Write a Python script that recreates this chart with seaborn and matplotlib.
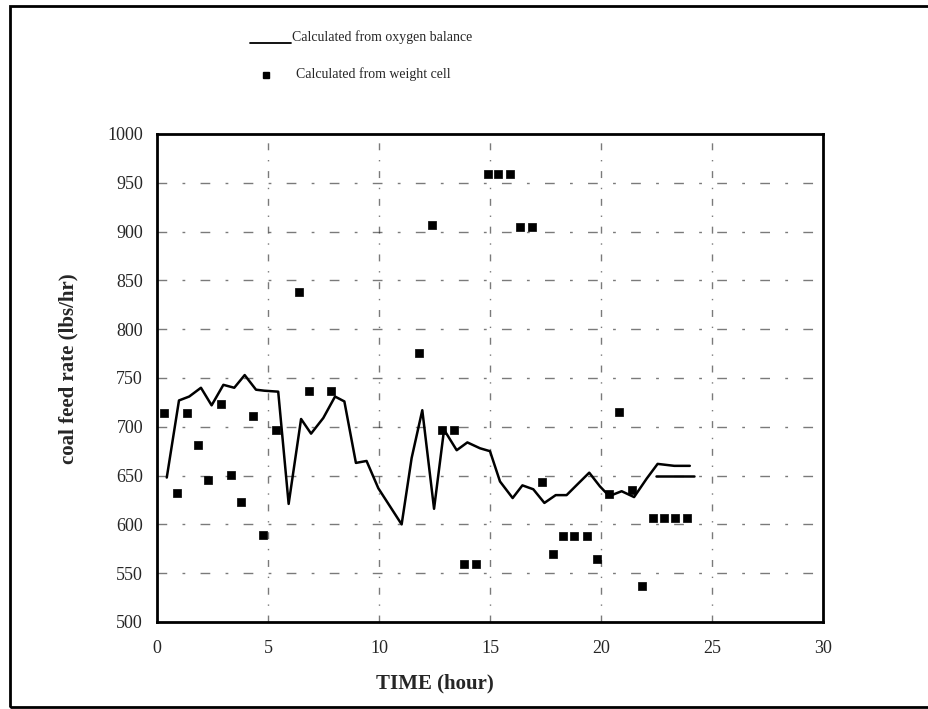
import matplotlib
matplotlib.use("Agg")
import matplotlib.pyplot as plt
import seaborn as sns
import pandas as pd
from matplotlib.patches import Rectangle

# Calculated from oxygen balance (line)
oxy_time = [0.44, 0.99, 1.45, 1.98, 2.46, 2.99, 3.48, 3.95, 4.46, 4.83, 5.46, 5.93,
            6.49, 6.94, 7.49, 8.02, 8.44, 8.96, 9.44, 9.97, 11.02, 11.47, 11.95,
            12.48, 12.93, 13.50, 13.98, 14.55, 15.00, 15.45, 16.02, 16.46, 16.95,
            17.45, 17.96, 18.45, 18.98, 19.47, 19.95, 20.37, 20.93, 21.49, 22.06,
            22.55, 23.30, 24.00]
oxy_rate = [648, 727, 731, 740, 722, 743, 740, 753, 738, 737, 736, 621,
            708, 693, 709, 731, 726, 663, 665, 637, 600, 668, 717,
            616, 697, 676, 684, 678, 675, 644, 627, 640, 636,
            622, 630, 630, 642, 653, 639, 629, 634, 628, 647,
            662, 660, 660]
# short flat segment of the same curve
oxy_tail_time = [22.5, 24.2]
oxy_tail_rate = [650, 650]

# Calculated from weight cell (points)
wc_time = [0.33, 0.89, 1.34, 1.86, 2.31, 2.87, 3.32, 3.78, 4.34, 4.79, 5.35,
           6.40, 6.85, 7.84, 11.82, 12.40, 12.82, 13.38, 13.83, 14.37, 14.90,
           15.37, 15.90, 16.35, 16.90, 17.33, 17.85, 18.30, 18.80, 19.35,
           19.80, 20.37, 20.82, 21.38, 21.83, 22.36, 22.85, 23.33, 23.86]
wc_rate = [714, 632, 714, 681, 645, 723, 651, 623, 711, 589, 697,
           838, 737, 737, 776, 907, 697, 697, 559, 559, 959,
           959, 959, 905, 905, 643, 570, 588, 588, 588,
           565, 631, 715, 635, 537, 607, 607, 607, 607]

x_ticks = [0, 5, 10, 15, 20, 25, 30]
y_ticks = [500, 550, 600, 650, 700, 750, 800, 850, 900, 950, 1000]

sns.set_theme(style="white")
plt.rcParams['font.family'] = ['Liberation Serif', 'DejaVu Serif']

fig = plt.figure(figsize=(9.29, 7.09), dpi=100)
ax = fig.add_axes([157/929, 1 - 622/709, (823-157)/929, (622-134)/709])

oxy_df = pd.DataFrame({"t": oxy_time, "r": oxy_rate})
tail_df = pd.DataFrame({"t": oxy_tail_time, "r": oxy_tail_rate})
wc_df = pd.DataFrame({"t": wc_time, "r": wc_rate})

sns.lineplot(data=oxy_df, x="t", y="r", ax=ax, color="black", linewidth=1.8,
             sort=False, estimator=None, zorder=3)
sns.lineplot(data=tail_df, x="t", y="r", ax=ax, color="black", linewidth=1.8,
             sort=False, estimator=None, zorder=3)
sns.scatterplot(data=wc_df, x="t", y="r", ax=ax, color="black", marker="s",
                s=30, edgecolor="black", linewidth=0.5, zorder=4)

ax.set_xlim(0, 30)
ax.set_ylim(500, 1000)
ax.set_xticks(x_ticks)
ax.set_yticks(y_ticks)
ax.set_xticklabels([str(v) for v in x_ticks], fontsize=13)
ax.set_yticklabels([str(v) for v in y_ticks], fontsize=13)
ax.tick_params(axis='both', length=2, width=0.8, color='black', pad=8)
ax.tick_params(axis='x', pad=11)

# faint broken grid (scanned look)
for yv in y_ticks[1:-1]:
    ax.axhline(yv, color="#222222", linewidth=1.0, linestyle=(0, (7, 11, 2, 11)),
               alpha=0.6, zorder=1)
for xv in x_ticks[1:-1]:
    ax.axvline(xv, color="#222222", linewidth=1.0, linestyle=(0, (5, 7, 1, 7)),
               alpha=0.6, zorder=1)

for s in ax.spines.values():
    s.set_visible(True)
    s.set_color("black")
    s.set_linewidth(2.0)

ax.set_xlabel("TIME (hour)", fontsize=15, fontweight="bold")
ax.set_ylabel("coal feed rate (lbs/hr)", fontsize=15, fontweight="bold")
ax.xaxis.set_label_coords((435-157)/666, -0.105)
ax.yaxis.set_label_coords(-(157-78)/666, 0.52)

# legend drawn above the axes
fig.lines.append(plt.Line2D([250/929, 291/929], [1 - 43/709, 1 - 43/709],
                            transform=fig.transFigure, color="black", linewidth=1.3))
fig.text(292/929, 1 - 37/709, "Calculated from oxygen balance", fontsize=10,
         ha="left", va="center")
fig.lines.append(plt.Line2D([266/929], [1 - 75/709], transform=fig.transFigure,
                            marker="s", markersize=4, color="black", linestyle="none"))
fig.text(296/929, 1 - 74/709, "Calculated from weight cell", fontsize=10,
         ha="left", va="center")

# outer frame
fig.patches.append(Rectangle((10/929, 1 - 707/709), 0.99, 701/709,
                             transform=fig.transFigure, fill=False,
                             edgecolor="black", linewidth=2.0, clip_on=False))

fig.savefig("out.png", dpi=100, facecolor="white")
